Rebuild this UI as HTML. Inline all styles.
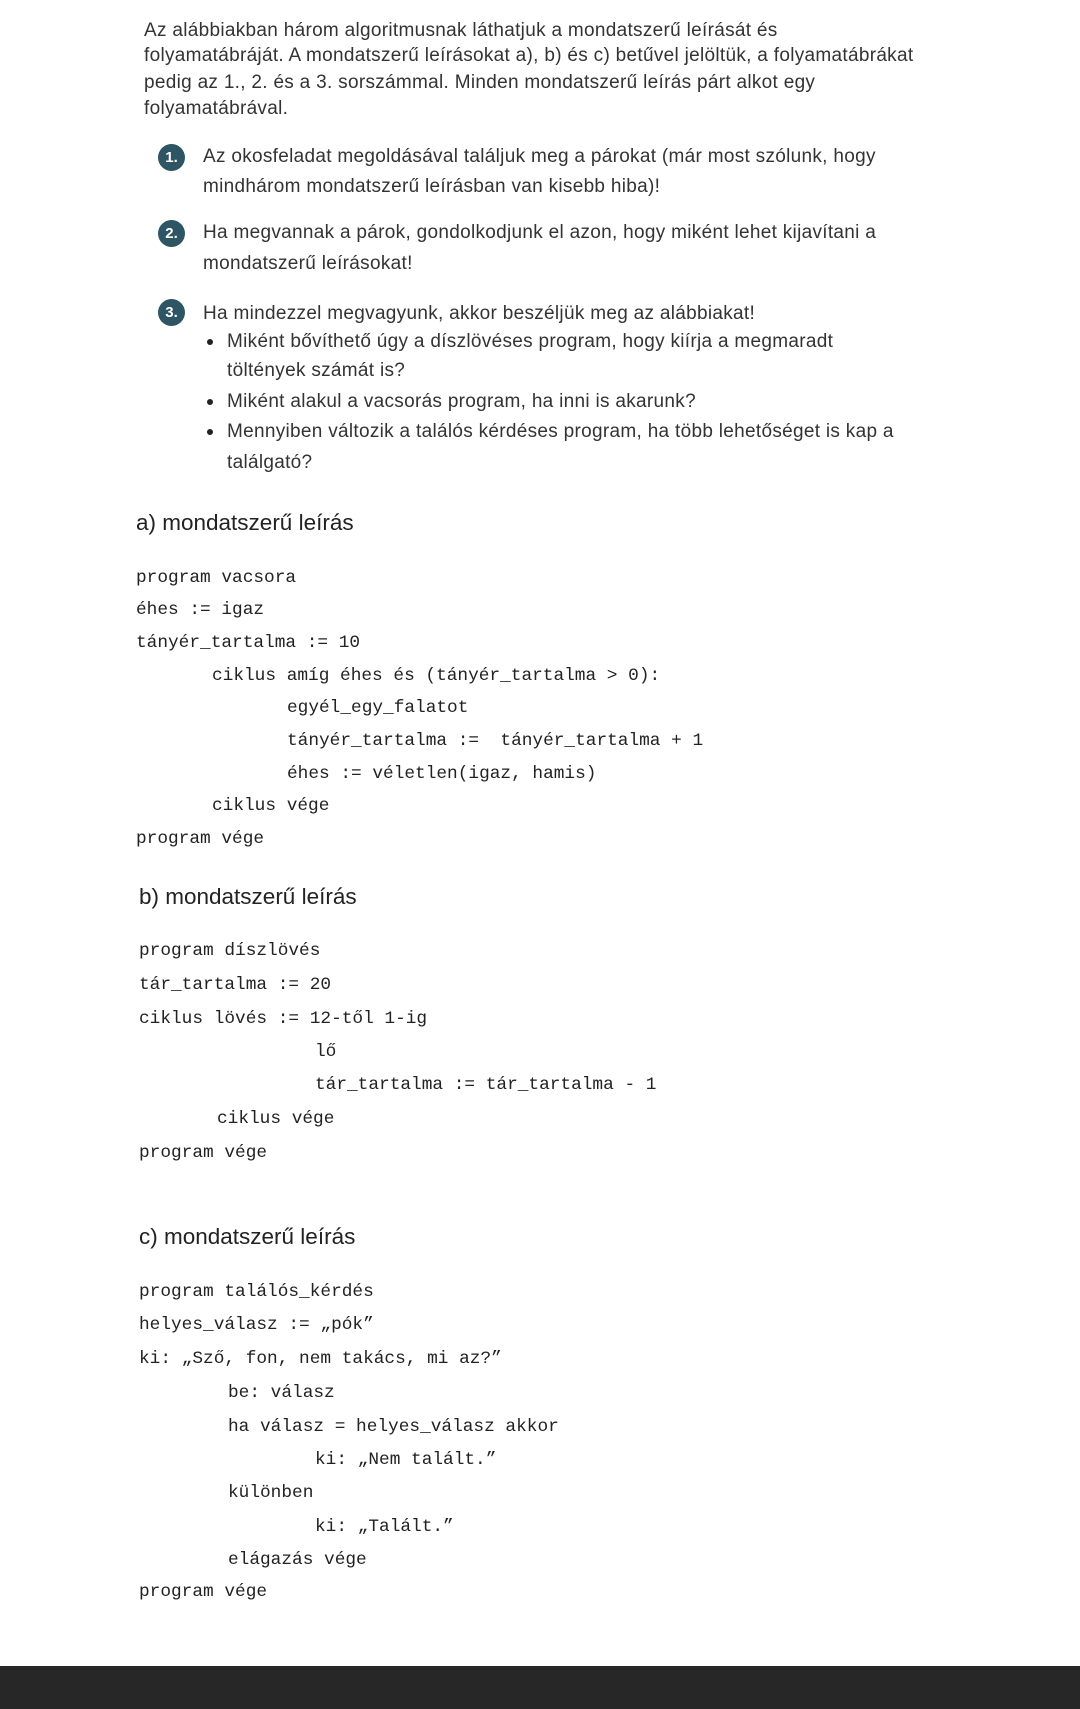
<!DOCTYPE html>
<html><head><meta charset="utf-8">
<style>
html,body{margin:0;padding:0;}
body{width:1080px;height:1709px;position:relative;background:#fff;overflow:hidden;color:#333;}
.t{position:absolute;font-family:"Liberation Sans",sans-serif;font-size:19px;line-height:26px;height:26px;white-space:nowrap;letter-spacing:0.3px;transform:translateY(2px);}
.h{position:absolute;font-family:"Liberation Sans",sans-serif;font-size:22.5px;line-height:30px;height:30px;white-space:nowrap;letter-spacing:0px;color:#222;}
.c{position:absolute;font-family:"Liberation Mono",monospace;font-size:17.8px;line-height:26px;height:26px;white-space:pre;color:#222;}
.n{position:absolute;width:27px;height:27px;border-radius:50%;background:#2d5563;color:#fff;font-family:"Liberation Sans",sans-serif;font-weight:bold;font-size:15px;line-height:27px;text-align:center;}
.b{position:absolute;width:6px;height:6px;border-radius:50%;background:#222;}
.bar{position:absolute;left:0;top:1666px;width:1080px;height:43px;background:#272727;}
</style></head><body>
<div class="t" style="left:144px;top:16px">Az alábbiakban három algoritmusnak láthatjuk a mondatszerű leírását és</div>
<div class="t" style="left:144px;top:41px">folyamatábráját. A mondatszerű leírásokat a), b) és c) betűvel jelöltük, a folyamatábrákat</div>
<div class="t" style="left:144px;top:68px">pedig az 1., 2. és a 3. sorszámmal. Minden mondatszerű leírás párt alkot egy</div>
<div class="t" style="left:144px;top:94px">folyamatábrával.</div>

<div class="n" style="left:158px;top:144px">1.</div>
<div class="t" style="left:203px;top:142px">Az okosfeladat megoldásával találjuk meg a párokat (már most szólunk, hogy</div>
<div class="t" style="left:203px;top:172px">mindhárom mondatszerű leírásban van kisebb hiba)!</div>

<div class="n" style="left:158px;top:220px">2.</div>
<div class="t" style="left:203px;top:218px">Ha megvannak a párok, gondolkodjunk el azon, hogy miként lehet kijavítani a</div>
<div class="t" style="left:203px;top:249px">mondatszerű leírásokat!</div>

<div class="n" style="left:158px;top:299px">3.</div>
<div class="t" style="left:203px;top:299px">Ha mindezzel megvagyunk, akkor beszéljük meg az alábbiakat!</div>
<div class="b" style="left:207px;top:339px"></div>
<div class="t" style="left:227px;top:327px">Miként bővíthető úgy a díszlövéses program, hogy kiírja a megmaradt</div>
<div class="t" style="left:227px;top:356px">töltények számát is?</div>
<div class="b" style="left:207px;top:399px"></div>
<div class="t" style="left:227px;top:387px">Miként alakul a vacsorás program, ha inni is akarunk?</div>
<div class="b" style="left:207px;top:429px"></div>
<div class="t" style="left:227px;top:417px">Mennyiben változik a találós kérdéses program, ha több lehetőséget is kap a</div>
<div class="t" style="left:227px;top:448px">találgató?</div>

<div class="h" style="left:136px;top:508px">a) mondatszerű leírás</div>
<div class="c" style="left:136px;top:565px">program vacsora</div>
<div class="c" style="left:136px;top:597px">éhes := igaz</div>
<div class="c" style="left:136px;top:630px">tányér_tartalma := 10</div>
<div class="c" style="left:212px;top:663px">ciklus amíg éhes és (tányér_tartalma &gt; 0):</div>
<div class="c" style="left:287px;top:695px">egyél_egy_falatot</div>
<div class="c" style="left:287px;top:728px">tányér_tartalma :=  tányér_tartalma + 1</div>
<div class="c" style="left:287px;top:761px">éhes := véletlen(igaz, hamis)</div>
<div class="c" style="left:212px;top:793px">ciklus vége</div>
<div class="c" style="left:136px;top:826px">program vége</div>

<div class="h" style="left:139px;top:882px">b) mondatszerű leírás</div>
<div class="c" style="left:139px;top:938px">program díszlövés</div>
<div class="c" style="left:139px;top:972px">tár_tartalma := 20</div>
<div class="c" style="left:139px;top:1006px">ciklus lövés := 12-től 1-ig</div>
<div class="c" style="left:315px;top:1039px">lő</div>
<div class="c" style="left:315px;top:1072px">tár_tartalma := tár_tartalma - 1</div>
<div class="c" style="left:217px;top:1106px">ciklus vége</div>
<div class="c" style="left:139px;top:1140px">program vége</div>

<div class="h" style="left:139px;top:1222px">c) mondatszerű leírás</div>
<div class="c" style="left:139px;top:1279px">program találós_kérdés</div>
<div class="c" style="left:139px;top:1312px">helyes_válasz := „pók”</div>
<div class="c" style="left:139px;top:1346px">ki: „Sző, fon, nem takács, mi az?”</div>
<div class="c" style="left:228px;top:1380px">be: válasz</div>
<div class="c" style="left:228px;top:1414px">ha válasz = helyes_válasz akkor</div>
<div class="c" style="left:315px;top:1447px">ki: „Nem talált.”</div>
<div class="c" style="left:228px;top:1480px">különben</div>
<div class="c" style="left:315px;top:1514px">ki: „Talált.”</div>
<div class="c" style="left:228px;top:1547px">elágazás vége</div>
<div class="c" style="left:139px;top:1579px">program vége</div>

<div class="bar"></div>
</body></html>
